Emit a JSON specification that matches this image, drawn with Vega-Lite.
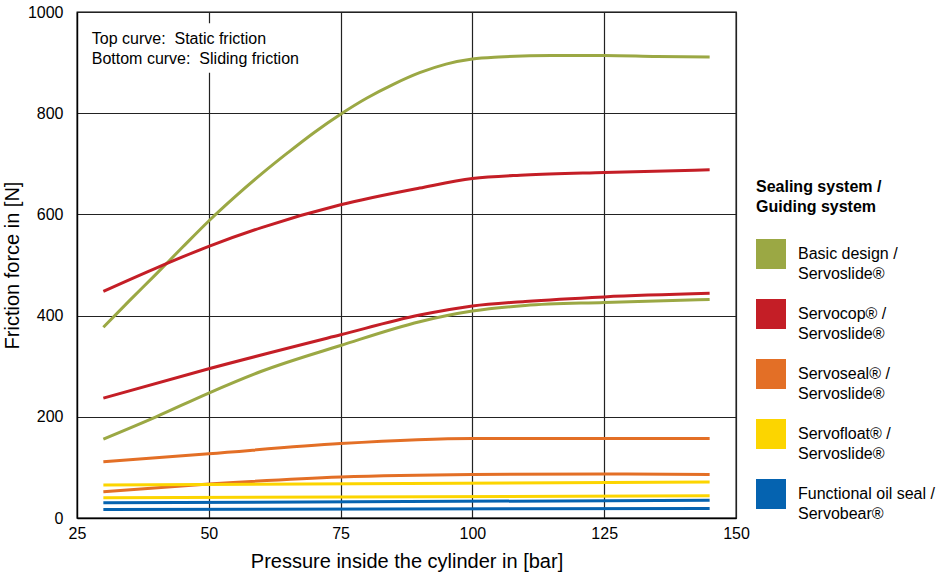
{
  "$schema": "https://vega.github.io/schema/vega-lite/v6.json",
  "autosize": {"type": "none"},
  "padding": {"left": 77, "top": 12, "right": 211, "bottom": 57},
  "width": 659,
  "height": 506,
  "background": "white",
  "config": {
    "font": "Liberation Sans",
    "view": {"stroke": "black", "strokeWidth": 1.3},
    "axis": {"grid": true, "gridColor": "#222222", "gridOpacity": 1, "gridWidth": 1.2, "domainColor": "black", "domainWidth": 1.3, "ticks": false, "labelFlush": false, "labelFontSize": 16, "labelColor": "black", "titleFontSize": 20, "titleFontWeight": "normal", "titleColor": "black", "format": "d"}
  },
  "datasets": {
    "curves": [
      {"series": "Basic design / Servoslide®", "friction": "static", "p": 30, "f": 377},
      {"series": "Basic design / Servoslide®", "friction": "static", "p": 35, "f": 430},
      {"series": "Basic design / Servoslide®", "friction": "static", "p": 40, "f": 482},
      {"series": "Basic design / Servoslide®", "friction": "static", "p": 45, "f": 535},
      {"series": "Basic design / Servoslide®", "friction": "static", "p": 50, "f": 587},
      {"series": "Basic design / Servoslide®", "friction": "static", "p": 55, "f": 635},
      {"series": "Basic design / Servoslide®", "friction": "static", "p": 60, "f": 680},
      {"series": "Basic design / Servoslide®", "friction": "static", "p": 65, "f": 722},
      {"series": "Basic design / Servoslide®", "friction": "static", "p": 70, "f": 762},
      {"series": "Basic design / Servoslide®", "friction": "static", "p": 75, "f": 798},
      {"series": "Basic design / Servoslide®", "friction": "static", "p": 80, "f": 830},
      {"series": "Basic design / Servoslide®", "friction": "static", "p": 85, "f": 857},
      {"series": "Basic design / Servoslide®", "friction": "static", "p": 90, "f": 880},
      {"series": "Basic design / Servoslide®", "friction": "static", "p": 95, "f": 897},
      {"series": "Basic design / Servoslide®", "friction": "static", "p": 100, "f": 907},
      {"series": "Basic design / Servoslide®", "friction": "static", "p": 105, "f": 911},
      {"series": "Basic design / Servoslide®", "friction": "static", "p": 115, "f": 914},
      {"series": "Basic design / Servoslide®", "friction": "static", "p": 125, "f": 914},
      {"series": "Basic design / Servoslide®", "friction": "static", "p": 135, "f": 912},
      {"series": "Basic design / Servoslide®", "friction": "static", "p": 145, "f": 911},
      {"series": "Basic design / Servoslide®", "friction": "sliding", "p": 30, "f": 156},
      {"series": "Basic design / Servoslide®", "friction": "sliding", "p": 40, "f": 200},
      {"series": "Basic design / Servoslide®", "friction": "sliding", "p": 50, "f": 247},
      {"series": "Basic design / Servoslide®", "friction": "sliding", "p": 60, "f": 290},
      {"series": "Basic design / Servoslide®", "friction": "sliding", "p": 75, "f": 341},
      {"series": "Basic design / Servoslide®", "friction": "sliding", "p": 90, "f": 388},
      {"series": "Basic design / Servoslide®", "friction": "sliding", "p": 100, "f": 409},
      {"series": "Basic design / Servoslide®", "friction": "sliding", "p": 110, "f": 420},
      {"series": "Basic design / Servoslide®", "friction": "sliding", "p": 125, "f": 426},
      {"series": "Basic design / Servoslide®", "friction": "sliding", "p": 145, "f": 432},
      {"series": "Servocop® / Servoslide®", "friction": "static", "p": 30, "f": 448},
      {"series": "Servocop® / Servoslide®", "friction": "static", "p": 40, "f": 494},
      {"series": "Servocop® / Servoslide®", "friction": "static", "p": 50, "f": 537},
      {"series": "Servocop® / Servoslide®", "friction": "static", "p": 60, "f": 574},
      {"series": "Servocop® / Servoslide®", "friction": "static", "p": 75, "f": 619},
      {"series": "Servocop® / Servoslide®", "friction": "static", "p": 90, "f": 652},
      {"series": "Servocop® / Servoslide®", "friction": "static", "p": 100, "f": 671},
      {"series": "Servocop® / Servoslide®", "friction": "static", "p": 110, "f": 678},
      {"series": "Servocop® / Servoslide®", "friction": "static", "p": 125, "f": 683},
      {"series": "Servocop® / Servoslide®", "friction": "static", "p": 145, "f": 688},
      {"series": "Servocop® / Servoslide®", "friction": "sliding", "p": 30, "f": 237},
      {"series": "Servocop® / Servoslide®", "friction": "sliding", "p": 50, "f": 295},
      {"series": "Servocop® / Servoslide®", "friction": "sliding", "p": 75, "f": 362},
      {"series": "Servocop® / Servoslide®", "friction": "sliding", "p": 90, "f": 401},
      {"series": "Servocop® / Servoslide®", "friction": "sliding", "p": 100, "f": 419},
      {"series": "Servocop® / Servoslide®", "friction": "sliding", "p": 110, "f": 428},
      {"series": "Servocop® / Servoslide®", "friction": "sliding", "p": 125, "f": 437},
      {"series": "Servocop® / Servoslide®", "friction": "sliding", "p": 145, "f": 444},
      {"series": "Servoseal® / Servoslide®", "friction": "static", "p": 30, "f": 111},
      {"series": "Servoseal® / Servoslide®", "friction": "static", "p": 50, "f": 127},
      {"series": "Servoseal® / Servoslide®", "friction": "static", "p": 75, "f": 147},
      {"series": "Servoseal® / Servoslide®", "friction": "static", "p": 100, "f": 157},
      {"series": "Servoseal® / Servoslide®", "friction": "static", "p": 125, "f": 157},
      {"series": "Servoseal® / Servoslide®", "friction": "static", "p": 145, "f": 157},
      {"series": "Servoseal® / Servoslide®", "friction": "sliding", "p": 30, "f": 52},
      {"series": "Servoseal® / Servoslide®", "friction": "sliding", "p": 50, "f": 67},
      {"series": "Servoseal® / Servoslide®", "friction": "sliding", "p": 75, "f": 81},
      {"series": "Servoseal® / Servoslide®", "friction": "sliding", "p": 100, "f": 86},
      {"series": "Servoseal® / Servoslide®", "friction": "sliding", "p": 125, "f": 87},
      {"series": "Servoseal® / Servoslide®", "friction": "sliding", "p": 145, "f": 86},
      {"series": "Servofloat® / Servoslide®", "friction": "static", "p": 30, "f": 65},
      {"series": "Servofloat® / Servoslide®", "friction": "static", "p": 145, "f": 71},
      {"series": "Servofloat® / Servoslide®", "friction": "sliding", "p": 30, "f": 40},
      {"series": "Servofloat® / Servoslide®", "friction": "sliding", "p": 145, "f": 44},
      {"series": "Functional oil seal / Servobear®", "friction": "static", "p": 30, "f": 30},
      {"series": "Functional oil seal / Servobear®", "friction": "static", "p": 145, "f": 35},
      {"series": "Functional oil seal / Servobear®", "friction": "sliding", "p": 30, "f": 17},
      {"series": "Functional oil seal / Servobear®", "friction": "sliding", "p": 145, "f": 19}
    ],
    "note": [
      {"x0": 27, "x1": 68, "y0": 880, "y1": 978, "tx": 27.8, "ty1": 936, "ty2": 897, "l1": "Top curve:\u00a0 Static friction", "l2": "Bottom curve:\u00a0 Sliding friction"}
    ]
  },
  "layer": [
    {
      "data": {"name": "note"},
      "mark": {"type": "rect", "fill": "white"},
      "encoding": {
        "x": {"field": "x0", "type": "quantitative", "scale": {"domain": [25, 150]}},
        "x2": {"field": "x1"},
        "y": {"field": "y0", "type": "quantitative", "scale": {"domain": [0, 1000]}},
        "y2": {"field": "y1"}
      }
    },
    {
      "data": {"name": "note"},
      "mark": {"type": "text", "align": "left", "baseline": "alphabetic", "fontSize": 16, "color": "black"},
      "encoding": {
        "x": {"field": "tx", "type": "quantitative"},
        "y": {"field": "ty1", "type": "quantitative"},
        "text": {"field": "l1"}
      }
    },
    {
      "data": {"name": "note"},
      "mark": {"type": "text", "align": "left", "baseline": "alphabetic", "fontSize": 16, "color": "black"},
      "encoding": {
        "x": {"field": "tx", "type": "quantitative"},
        "y": {"field": "ty2", "type": "quantitative"},
        "text": {"field": "l2"}
      }
    },
    {
      "data": {"name": "curves"},
      "mark": {"type": "line", "interpolate": "monotone", "strokeWidth": 3},
      "encoding": {
        "x": {"field": "p", "type": "quantitative", "title": "Pressure inside the cylinder in [bar]",
              "scale": {"domain": [25, 150], "nice": false},
              "axis": {"values": [25, 50, 75, 100, 125, 150], "labelPadding": 7, "titlePadding": 10}},
        "y": {"field": "f", "type": "quantitative", "title": "Friction force in [N]",
              "scale": {"domain": [0, 1000], "nice": false},
              "axis": {"values": [0, 200, 400, 600, 800, 1000], "labelPadding": 14, "titlePadding": 5}},
        "detail": {"field": "friction"},
        "color": {
          "field": "series", "type": "nominal",
          "scale": {
            "domain": ["Basic design / Servoslide®", "Servocop® / Servoslide®", "Servoseal® / Servoslide®", "Servofloat® / Servoslide®", "Functional oil seal / Servobear®"],
            "range": ["#9BA844", "#C41E26", "#E36F26", "#FCD500", "#0563B0"]
          },
          "legend": {
            "title": ["Sealing system /", "Guiding system"],
            "titleFontSize": 16, "titleFontWeight": "bold", "titleColor": "black", "titleLineHeight": 20, "titlePadding": 24,
            "orient": "none", "legendX": 679, "legendY": 167,
            "symbolType": "square", "symbolSize": 900, "symbolOpacity": 1,
            "labelFontSize": 16, "labelColor": "black", "labelLimit": 200, "labelOffset": 12,
            "labelExpr": "split(replace(datum.label, ' / ', ' /~'), '~')",
            "rowPadding": 17,
            "encode": {
              "labels": {"update": {"lineHeight": {"value": 20}}},
              "symbols": {"update": {"fill": {"scale": "color", "field": "value"}, "fillOpacity": {"value": 1}, "strokeWidth": {"value": 0}}}
            }
          }
        }
      }
    }
  ]
}
